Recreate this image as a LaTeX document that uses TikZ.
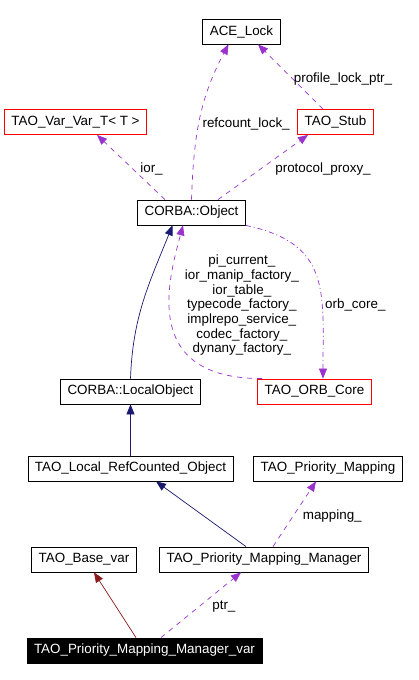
\documentclass[tikz,border=0pt]{standalone}
\usepackage{fontspec}
\setmainfont{Liberation Sans}
\usepackage{xcolor}
\usepackage{tikz}
\usetikzlibrary{arrows.meta,positioning}
\definecolor{inhblue}{HTML}{191970}
\definecolor{useviolet}{HTML}{9A32CD}
\definecolor{varred}{HTML}{8B1A1A}

\begin{document}
\begin{tikzpicture}[x=1pt, y=1pt, on grid, font=\fontsize{13.4}{14.67}\selectfont,
  cls/.style = {draw, line width=0.8pt, minimum height=25pt, inner xsep=7pt, inner ysep=0pt},
  hot/.style = {cls, draw=red},
  tip/.style = {-{Triangle[length=10pt,width=8pt]}},
  inh/.style = {tip, draw=inhblue, fill=none, line width=0.7pt},
  use/.style = {tip, draw=useviolet, line width=0.7pt, dash pattern=on 5pt off 5pt},
  lbl/.style = {inner sep=3pt, yshift=-2pt}]
\useasboundingbox (0,0) rectangle (419,680);
\node[cls] (obj) at (191.5,467.5) {CORBA::Object};
\node[cls] (ace) [above right=181pt and 50pt of obj] {ACE\_Lock};
\node[hot] (varvar) [above left=90.5pt and 116pt of obj] {TAO\_Var\_Var\_T< T >};
\node[hot] (stub) [above right=90.5pt and 144pt of obj] {TAO\_Stub};
\node[cls] (local) [below left=179pt and 61pt of obj] {CORBA::LocalObject};
\node[hot] (orb) [right=184pt of local] {TAO\_ORB\_Core};
\node[cls] (refc) [below=77pt of local] {TAO\_Local\_RefCounted\_Object};
\node[cls] (prio) [right=197.5pt of refc] {TAO\_Priority\_Mapping};
\node[cls] (base) [below left=91pt and 46.5pt of refc] {TAO\_Base\_var};
\node[cls] (mgr) [right=180pt of base] {TAO\_Priority\_Mapping\_Manager};
\node[cls, fill=black, text=white] (mvar) [below right=91pt and 60.5pt of base] {TAO\_Priority\_Mapping\_Manager\_var};
\draw[use] (obj.north) to [out=88,in=-118] node[lbl,pos=0.48,right] {refcount\_lock\_} ([xshift=-13pt]ace.south);
\draw[use] ([xshift=-12.5pt]stub.north) -- node[lbl,pos=0.5,right] {profile\_lock\_ptr\_} ([xshift=16.5pt]ace.south);
\draw[use] ([xshift=-26.5pt]obj.north) -- node[lbl,pos=0.5,right,xshift=6pt] {ior\_} ([xshift=21.5pt]varvar.south);
\draw[use] ([xshift=26.5pt]obj.north) -- node[lbl,pos=0.5,right,xshift=9pt] {protocol\_proxy\_} ([xshift=-27.5pt]stub.south);
\draw[inh] (local.north) to [out=88,in=-112] ([xshift=-19pt]obj.south);
\draw[use] ([xshift=-52.5pt]orb.north) to [out=180,in=-105,out looseness=1.8,in looseness=0.85] node[lbl,pos=0.6,right,xshift=12pt,align=center] {pi\_current\_\\ior\_manip\_factory\_\\ior\_table\_\\typecode\_factory\_\\implrepo\_service\_\\codec\_factory\_\\dynany\_factory\_} ([xshift=-8.5pt]obj.south);
\draw[use, dash pattern=on 5pt off 3pt on 1pt off 3pt] (obj.south east) to [out=-12,in=90,looseness=1.3] node[lbl,pos=0.66,right] {orb\_core\_} ([xshift=8.5pt]orb.north);
\draw[inh] (refc.north) -- (local.south);
\draw[inh] ([xshift=-18pt]mgr.north) -- ([xshift=25.5pt]refc.south);
\draw[use] ([xshift=9pt]mgr.north) -- node[lbl,pos=0.5,right,xshift=5pt] {mapping\_} ([xshift=-12pt]prio.south);
\draw[tip, draw=varred, line width=0.7pt] ([xshift=-8.5pt]mvar.north) -- ([xshift=10pt]base.south);
\draw[use] ([xshift=16.5pt]mvar.north) -- node[lbl,pos=0.5,right,xshift=8pt] {ptr\_} ([xshift=-23pt]mgr.south);
\end{tikzpicture}
\end{document}
